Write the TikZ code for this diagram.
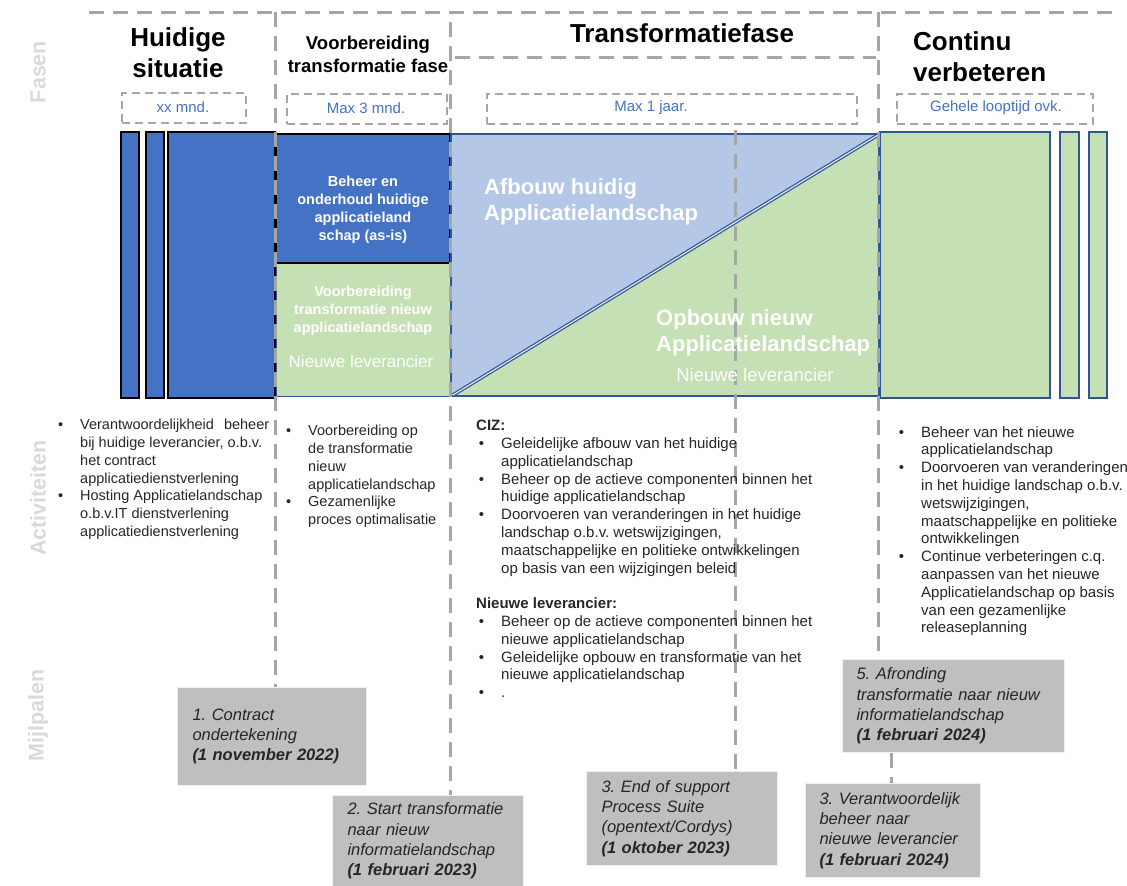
\documentclass[tikz,border=0pt]{standalone}
\usepackage{fontspec}
\setmainfont{Liberation Sans}
\usetikzlibrary{calc}
\frenchspacing
\definecolor{dblue}{HTML}{4472C4}
\definecolor{lblue}{HTML}{B4C7E7}
\definecolor{lgreen}{HTML}{C5E0B4}
\definecolor{bborder}{HTML}{2F5597}
\definecolor{dashgray}{HTML}{A6A6A6}
\definecolor{labgray}{HTML}{D9D9D9}
\definecolor{txtblue}{HTML}{4472C4}
\definecolor{msgray}{HTML}{BFBFBF}
\definecolor{txt}{HTML}{262626}
\newcommand{\setfs}[2]{\fontsize{#1}{#2}\selectfont}
\newcommand{\bulit}{\leavevmode\llap{\textbullet\hspace{17pt}}}
\newcommand{\indt}{\hspace*{25pt}}
\begin{document}
\begin{tikzpicture}[x=1pt,y=-1pt,
  gdash/.style={draw=dashgray,line width=3pt,dash pattern=on 15pt off 9pt},
  sdash/.style={draw=dashgray,line width=2pt,dash pattern=on 8pt off 5pt},
  durbox/.style={sdash,minimum height=30pt,inner sep=0pt,anchor=north west},
  durtext/.style={text=txtblue,font=\setfs{15}{18},inner sep=0pt},
  phase/.style={font=\bfseries\setfs{26}{31},align=center,anchor=north,inner sep=0pt},
  sidelabel/.style={rotate=90,text=labgray,font=\bfseries\setfs{21.5}{24},inner sep=0pt},
  act/.style={font=\setfs{14.5}{17.8},text=txt,align=left,anchor=north west,inner sep=0pt},
  ms/.style={fill=msgray,draw=white!75!msgray,line width=1pt,align=left,inner xsep=15pt,inner ysep=0pt,
    font=\itshape\setfs{16.5}{20.2},text=txt,anchor=north west},
  bar/.style={fill=dblue,draw=black,line width=1.5pt},
  gbar/.style={fill=lgreen,draw=bborder,line width=1.2pt},
  wt/.style={text=white,inner sep=0pt}
]
\useasboundingbox (0,0) rectangle (1127,886);

% ---------- bars ----------
\draw[bar] (121,132) rectangle (139,398);
\draw[bar] (146,132) rectangle (164,398);
\draw[bar] (168,132) rectangle (275,398);
\draw[gbar,line width=1pt] (276,263) rectangle (450,396);
\draw[fill=dblue,draw=black,line width=2pt] (276,134) rectangle (450,263);
\fill[lblue] (451,134) -- (879,134) -- (451,396) -- cycle;
\fill[lgreen] (451,396) -- (879,134) -- (879,396) -- cycle;
\draw[bborder,line width=1.2pt] (451,134) rectangle (879,396);
\draw[bborder,line width=1.2pt,double=white!55!lblue,double distance=1.2pt] (453,395) -- (878,135);
\draw[gbar] (880,132) rectangle (1050,398);
\draw[gbar] (1060,132) rectangle (1079,398);
\draw[gbar] (1089,132) rectangle (1107,398);

% ---------- milestones ----------
\node[ms,text width=159pt,minimum height=98pt] (m1) at (177,687)
  {1. Contract\\ondertekening\\\textbf{(1 november 2022)}};
\node[ms,text width=161pt,minimum height=91pt] (m2) at (332,795)
  {2. Start transformatie\\naar nieuw\\informatielandschap\\\textbf{(1 februari 2023)}};
\node[ms,text width=161pt,minimum height=94pt] (m3) at (586,771)
  {3. End of support\\Process Suite\\(opentext/Cordys)\\\textbf{(1 oktober 2023)}};
\node[ms,text width=194pt,minimum height=93pt,inner xsep=14pt] (m5) at (842,659)
  {5. Afronding\\transformatie naar nieuw\\informatielandschap\\\textbf{(1 februari 2024)}};
\node[ms,text width=147pt,minimum height=94pt,inner xsep=14pt] (m4) at (805,783)
  {3. Verantwoordelijk\\beheer naar\\nieuwe leverancier\\\textbf{(1 februari 2024)}};

% ---------- dashed frame lines ----------
\coordinate (v1) at (275,12);
\coordinate (v2) at (450,22);
\coordinate (v3) at (735,130);
\coordinate (v4) at (878,12);
\coordinate (v5) at (891,0);
\coordinate (tl) at (89,12);
\coordinate (tr) at (1118,12);
\coordinate (tfl) at (455,57);
\coordinate (tfr) at (876,57);
\draw[gdash] (tl) -- (tr);
\draw[gdash] (tfl) -- (tfr);
\draw[gdash] (v1) -- (v1 |- m1.north);
\draw[gdash] (v2) -- (v2 |- m2.north);
\draw[gdash] (v3) -- (v3 |- m3.north);
\draw[gdash] (v4) -- (v4 |- m5.north);
\draw[gdash] (m5.south -| v5) -- (m4.north -| v5);

% ---------- duration boxes ----------
\node[durbox,minimum width=124pt] (d1) at (121,92) {};
\node[durbox,minimum width=160pt] (d2) at (286,93) {};
\node[durbox,minimum width=370pt] (d3) at (486,93) {};
\node[durbox,minimum width=196pt] (d4) at (896,93) {};
\node[durtext] (d1t) at (183,107) {xx mnd.};
\node[durtext] (d2t) at (366,108) {Max 3 mnd.};
\node[durtext] (d3t) at (651,108) {Max 1 jaar.};
\node[durtext] (d4t) at (996,108) {Gehele looptijd ovk.};

% ---------- side labels ----------
\node[sidelabel] (lf) at (38,72) {Fasen};
\node[sidelabel] (la) at (38,498) {Activiteiten};
\node[sidelabel] (lm) at (38,715) {Mijlpalen};

% ---------- phase titles ----------
\node[phase] (h1) at (178,27) {Huidige\\situatie};
\node[phase,font=\bfseries\setfs{18.5}{23}] (h2) at (368,36) {Voorbereiding\\transformatie fase};
\node[phase] (h3) at (682,23) {Transformatiefase};
\node[phase,anchor=north west,align=left] (h4) at (913,31) {Continu\\verbeteren};

% ---------- texts in bars ----------
\node[wt,font=\bfseries\setfs{14.5}{18},align=center] (tb) at (363,210)
  {Beheer en\\onderhoud huidige\\applicatieland\\schap (as-is)};
\node[wt,font=\bfseries\setfs{14.5}{18},align=center] (tv) at (363,311)
  {Voorbereiding\\transformatie nieuw\\applicatielandschap};
\node[wt,font=\setfs{17}{20}] (tnl1) at (361,361) {Nieuwe leverancier};
\node[wt,font=\bfseries\setfs{22}{26.5},align=left,anchor=north west] (ta) at (484,178)
  {Afbouw huidig\\Applicatielandschap};
\node[wt,font=\bfseries\setfs{22}{26.5},align=left,anchor=north west] (to) at (656,309)
  {Opbouw nieuw\\Applicatielandschap};
\node[wt,font=\setfs{18.5}{22}] (tnl2) at (755,375) {Nieuwe leverancier};

% ---------- activities ----------
\node[act] (a1) at (80,419)
  {\bulit\makebox[189pt][s]{Verantwoordelijkheid beheer}\\
   bij huidige leverancier, o.b.v.\\
   het contract\\
   applicatiedienstverlening\\
   \bulit Hosting Applicatielandschap\\
   o.b.v.IT dienstverlening\\
   applicatiedienstverlening};
\node[act] (a2) at (308,425)
  {\bulit Voorbereiding op\\
   de transformatie\\
   nieuw\\
   applicatielandschap\\
   \bulit Gezamenlijke\\
   proces optimalisatie};
\node[act,font=\setfs{15}{17.8}] (a3) at (476,420)
  {\textbf{CIZ:}\\
   \indt\bulit Geleidelijke afbouw van het huidige\\
   \indt applicatielandschap\\
   \indt\bulit Beheer op de actieve componenten binnen het\\
   \indt huidige applicatielandschap\\
   \indt\bulit Doorvoeren van veranderingen in het huidige\\
   \indt landschap o.b.v. wetswijzigingen,\\
   \indt maatschappelijke en politieke ontwikkelingen\\
   \indt op basis van een wijzigingen beleid\\[17.8pt]
   \textbf{Nieuwe leverancier:}\\
   \indt\bulit Beheer op de actieve componenten binnen het\\
   \indt nieuwe applicatielandschap\\
   \indt\bulit Geleidelijke opbouw en transformatie van het\\
   \indt nieuwe applicatielandschap\\
   \indt\bulit .};
\node[act,font=\setfs{15}{17.8}] (a4) at (921,426)
  {\bulit Beheer van het nieuwe\\
   applicatielandschap\\
   \bulit Doorvoeren van veranderingen\\
   in het huidige landschap o.b.v.\\
   wetswijzigingen,\\
   maatschappelijke en politieke\\
   ontwikkelingen\\
   \bulit Continue verbeteringen c.q.\\
   aanpassen van het nieuwe\\
   Applicatielandschap op basis\\
   van een gezamenlijke\\
   releaseplanning};
\end{tikzpicture}
\end{document}
